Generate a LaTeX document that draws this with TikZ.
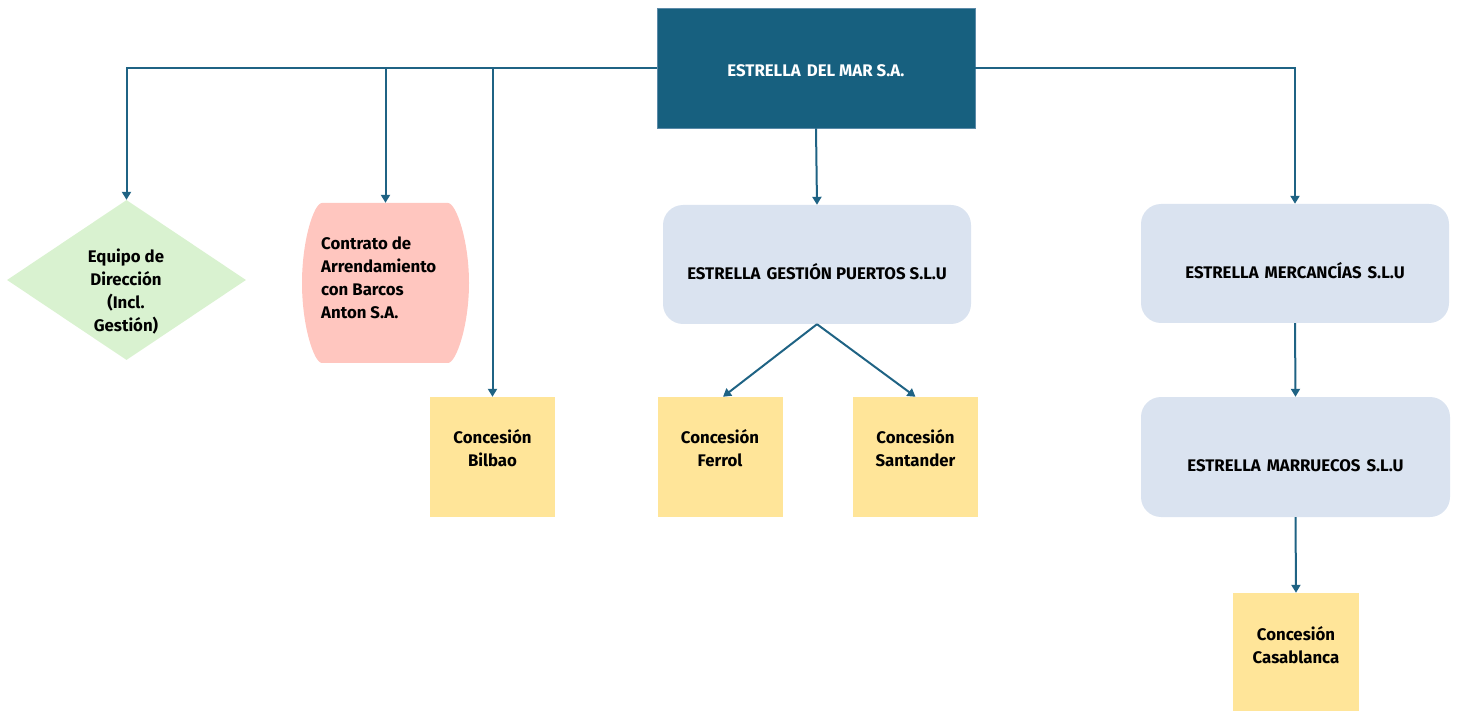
\documentclass[tikz,border=0pt]{standalone}
\usepackage{fontspec}
\setmainfont{Fira Sans}
\usetikzlibrary{shapes.geometric,arrows.meta}
\definecolor{teal}{HTML}{17607F}
\definecolor{tealborder}{HTML}{5B8AA8}
\definecolor{arrowc}{HTML}{1F6384}
\definecolor{lblue}{HTML}{DAE3F0}
\definecolor{lyellow}{HTML}{FFE599}
\definecolor{lgreen}{HTML}{D9F2D0}
\definecolor{lpink}{HTML}{FFC6BF}
\newcommand{\gap}{\hspace{2pt} }
\tikzset{
  arr/.style={draw=arrowc, line width=2pt, -{Triangle[width=9pt,length=8pt]}},
  txt/.style={font=\fontsize{16.8}{23}\selectfont\bfseries, text=black, align=center, inner sep=0pt},
  topbox/.style={draw=tealborder, line width=0.8pt, fill=teal, minimum width=318pt, minimum height=120pt, inner sep=0pt},
  bluebox/.style={fill=lblue, rounded corners=20pt, minimum width=308pt, minimum height=119pt, inner sep=0pt},
  ybox/.style={fill=lyellow, minimum width=125pt, minimum height=120pt, inner sep=0pt},
  dia/.style={diamond, fill=lgreen, minimum width=239pt, minimum height=160pt, inner sep=0pt},
}
\begin{document}
\begin{tikzpicture}[x=1pt,y=-1pt]
\useasboundingbox (0,0) rectangle (1457,711);
% top
\node[topbox] (top) at (816,68) {};
\node[txt, text=white] (topT) at (816,71) {ESTRELLA\gap DEL MAR S.A.};
% diamond
\node[dia] (equipo) at (126.5,280) {};
\node[txt] (equipoT) at (126,292) {Equipo de\\Dirección\\(Incl.\\Gestión)};
% pink contract
\node[minimum width=167pt, minimum height=160pt, inner sep=0pt] (contrato) at (385.5,283) {};
\fill[lpink] (322,203) -- (448,203) .. controls (456,203) and (469,240) .. (469,283) .. controls (469,326) and (456,363) .. (448,363) -- (322,363) .. controls (314,363) and (302,326) .. (302,283) .. controls (302,240) and (314,203) .. (322,203) -- cycle;
\node[txt, align=left, anchor=west] (contratoT) at (321,278) {Contrato de\\Arrendamiento\\con Barcos\\Anton S.A.};
% yellow boxes
\node[ybox] (bilbao) at (492.5,457) {};
\node[txt] (bilbaoT) at (492.5,448) {Concesión\\Bilbao};
\node[ybox] (ferrol) at (720,457) {};
\node[txt] (ferrolT) at (720,448) {Concesión\\Ferrol};
\node[ybox] (santander) at (915.5,457) {};
\node[txt] (santanderT) at (915.5,448) {Concesión\\Santander};
% blue boxes
\node[bluebox] (puertos) at (817,264.5) {};
\node[txt] (puertosT) at (817,272) {ESTRELLA\gap GESTIÓN PUERTOS S.L.U};
\node[bluebox, minimum width=308pt] (merc) at (1295,263.5) {};
\node[txt] (mercT) at (1295,271) {ESTRELLA\gap MERCANCÍAS\gap S.L.U};
\node[bluebox, minimum width=309pt, minimum height=120pt] (marr) at (1295.5,457) {};
\node[txt] (marrT) at (1295.5,466) {ESTRELLA\gap MARRUECOS\gap S.L.U};
\node[ybox, minimum width=126pt, minimum height=130pt] (casa) at (1296,658) {};
\node[txt] (casaT) at (1296,645) {Concesión\\Casablanca};
% connectors
\draw[arr] (top.west) -| (equipo.north);
\draw[arr] (top.west) -| (contrato.north);
\draw[arr] (top.west) -| (bilbao.north);
\draw[arr] (top.east) -| (merc.north);
\draw[arr] (top.south) -- (puertos.north);
\draw[arr] (puertos.south) -- ([xshift=3pt]ferrol.north);
\draw[arr] (puertos.south) -- (santander.north);
\draw[arr] (merc.south) -- (marr.north);
\draw[arr] (marr.south) -- (casa.north);
\end{tikzpicture}
\end{document}
